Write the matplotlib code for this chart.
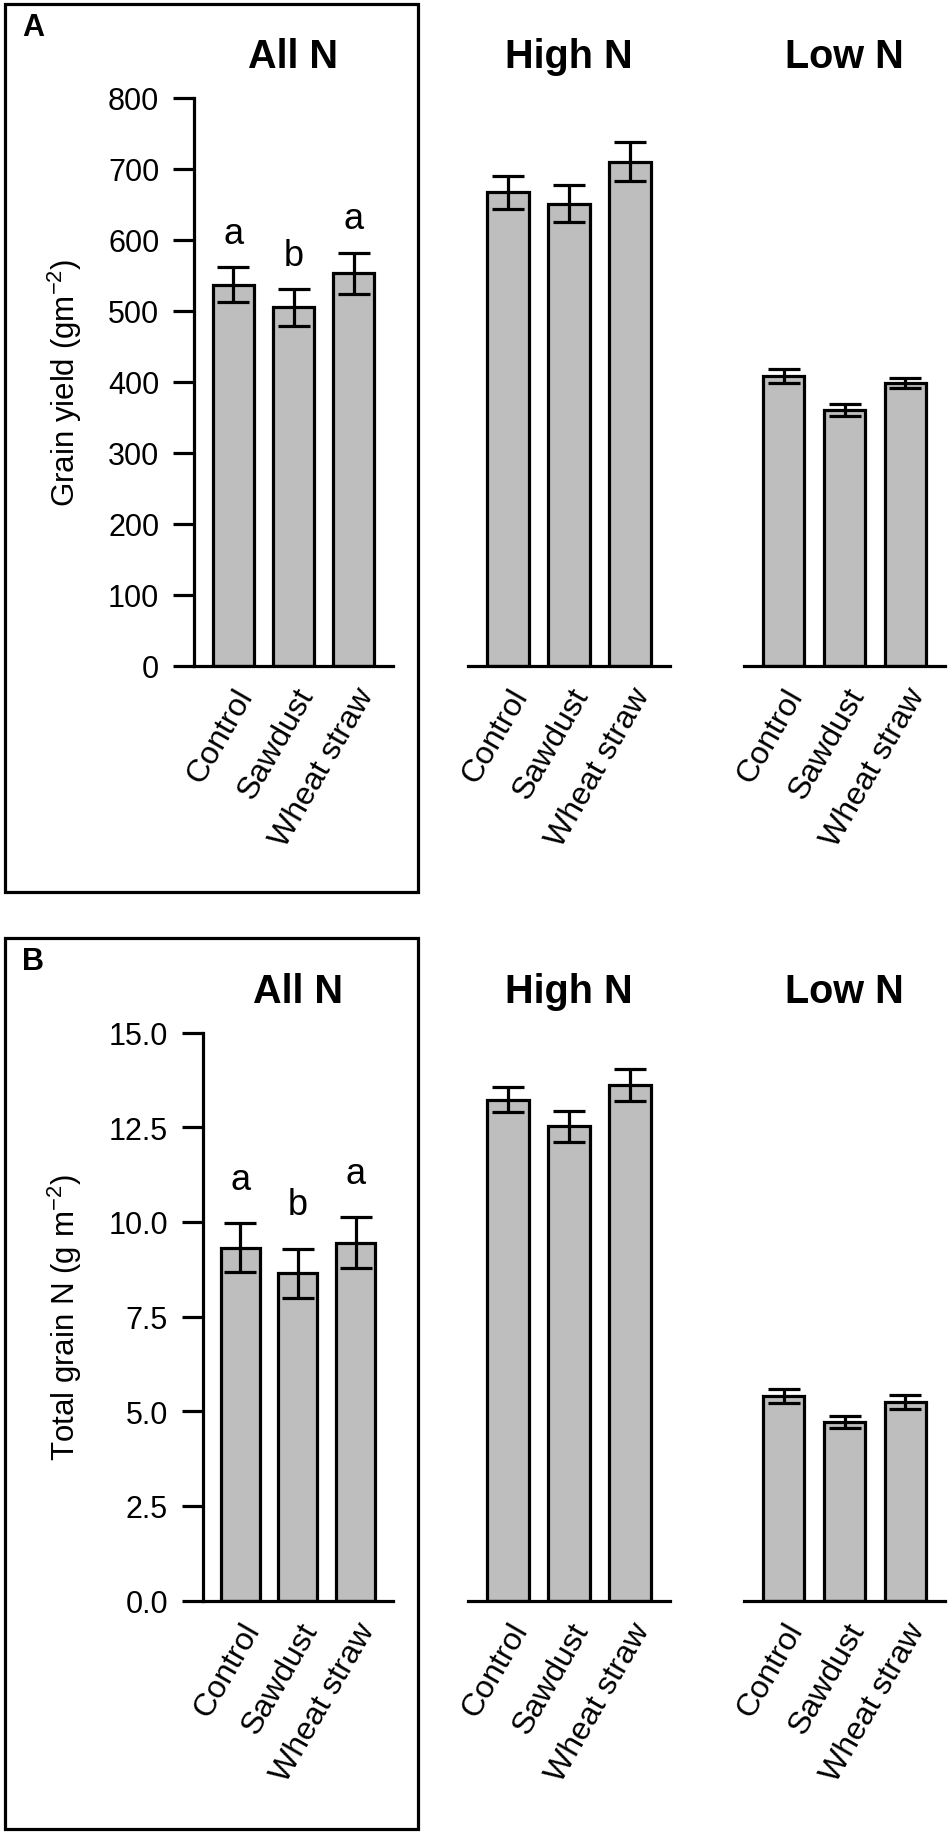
import matplotlib
matplotlib.use("Agg")
import matplotlib.pyplot as plt
from matplotlib.patches import Rectangle
from matplotlib.transforms import ScaledTranslation
import numpy as np

plt.rcParams['font.family'] = ['Liberation Sans', 'DejaVu Sans']
plt.rcParams['mathtext.fontset'] = 'custom'
plt.rcParams['mathtext.rm'] = 'Liberation Sans'
plt.rcParams['mathtext.it'] = 'Liberation Sans:italic'

groups = ["All N", "High N", "Low N"]
treatments = ["Control", "Sawdust", "Wheat straw"]
letters = ["a", "b", "a"]

# grain yield (g m-2), rows = All N, High N, Low N
yield_mean = [[537, 505, 553], [667, 651, 710], [408, 360, 399]]
yield_se = [[24, 26, 29], [23, 26, 27], [10, 8.5, 7]]

# total grain N (g m-2)
grainN_mean = [[9.32, 8.64, 9.45], [13.22, 12.52, 13.61], [5.40, 4.71, 5.25]]
grainN_se = [[0.64, 0.64, 0.67], [0.33, 0.40, 0.42], [0.19, 0.16, 0.18]]

yield_ticks = [0, 100, 200, 300, 400, 500, 600, 700, 800]
grainN_ticks = [0.0, 2.5, 5.0, 7.5, 10.0, 12.5, 15.0]

W, H = 950, 1833
fig = plt.figure(figsize=(W / 100, H / 100), dpi=100)

def px_axes(x0, x1, ytop, ybot):
    return fig.add_axes([x0 / W, 1 - ybot / H, (x1 - x0) / W, (ybot - ytop) / H])

LW = 2.3
GREY = "#bebebe"

panels = [
    dict(means=yield_mean, ses=yield_se, ticks=yield_ticks, fmt="{:.0f}",
         ytop=98.7, ybot=667, left0=194, off=34, lab="A", laby=28,
         ylabel=r"Grain yield (gm$^{-2}$)", box=(5, 5, 418, 893)),
    dict(means=grainN_mean, ses=grainN_se, ticks=grainN_ticks, fmt="{:.1f}",
         ytop=1033.5, ybot=1601.7, left0=202.7, off=0.92, lab="B", laby=962,
         ylabel=r"Total grain N (g m$^{-2}$)", box=(5, 939, 418, 1830)),
]

x = np.arange(3)
shift = ScaledTranslation(0.20, 0, fig.dpi_scale_trans)

for p in panels:
    xs = [(p["left0"], 393), (468, 670), (744, 945)]
    for g in range(3):
        ax = px_axes(xs[g][0], xs[g][1], p["ytop"], p["ybot"])
        ax.bar(x, p["means"][g], width=0.68, color=GREY, edgecolor="black",
               linewidth=LW, zorder=2)
        ax.errorbar(x, p["means"][g], yerr=p["ses"][g], fmt="none",
                    ecolor="black", elinewidth=LW, capsize=11.5, capthick=LW, zorder=3)
        ax.set_xlim(-0.65, 2.65)
        ax.set_ylim(p["ticks"][0], p["ticks"][-1])
        for s in ["top", "right"]:
            ax.spines[s].set_visible(False)
        ax.spines["bottom"].set_linewidth(LW)
        ax.spines["left"].set_linewidth(LW)
        ax.spines["bottom"].set_capstyle("projecting")
        ax.set_xticks(x)
        ax.set_xticklabels(treatments, rotation=60, ha="right", va="top",
                           rotation_mode="anchor", fontsize=23)
        for t in ax.get_xticklabels():
            t.set_transform(t.get_transform() + shift)
        ax.tick_params(axis="x", length=0, pad=12)
        if g == 0:
            ax.set_yticks(p["ticks"])
            ax.set_yticklabels([p["fmt"].format(v) for v in p["ticks"]], fontsize=22)
            ax.tick_params(axis="y", length=15, width=LW, pad=10)
            for i in range(3):
                ax.text(x[i], p["means"][g][i] + p["ses"][g][i] + p["off"], letters[i],
                        ha="center", va="baseline", fontsize=26)
            yc = 1 - (p["ytop"] + p["ybot"]) / 2 / H
            fig.text(65 / W, yc, p["ylabel"], rotation=90, ha="center", va="center",
                     fontsize=22.5)
        else:
            ax.spines["left"].set_visible(False)
            ax.set_yticks([])
        ax.set_title(groups[g], fontsize=28.5, fontweight="bold", pad=22)
        ax.patch.set_visible(False)

    fig.text(33 / W, 1 - p["laby"] / H, p["lab"], ha="center", va="center",
             fontsize=22, fontweight="bold")
    bx0, by0, bx1, by1 = p["box"]
    fig.patches.append(Rectangle((bx0 / W, 1 - by1 / H), (bx1 - bx0) / W,
                                 (by1 - by0) / H, transform=fig.transFigure,
                                 fill=False, edgecolor="black", linewidth=LW))

fig.savefig("out.png", dpi=100)
